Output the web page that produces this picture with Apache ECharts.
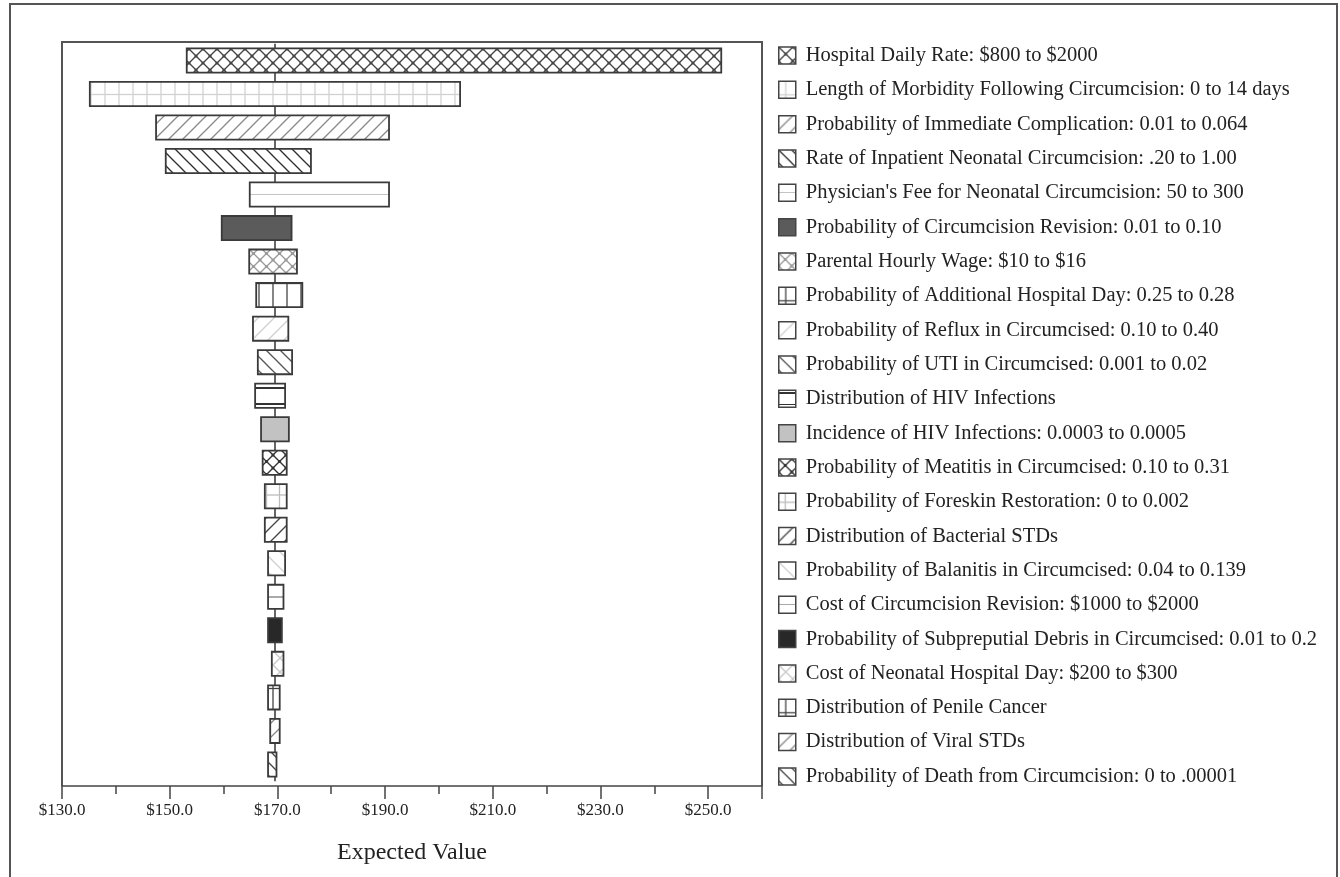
<!DOCTYPE html>
<html><head><meta charset="utf-8">
<script src="https://cdn.jsdelivr.net/npm/echarts@6/dist/echarts.min.js"></script>
<style>html,body{margin:0;padding:0;background:#fff}#c{width:1340px;height:877px}</style>
</head><body><div id="c"></div>
<script>
const categories = [
  "Hospital Daily Rate: $800 to $2000",
  "Length of Morbidity Following Circumcision: 0 to 14 days",
  "Probability of Immediate Complication: 0.01 to 0.064",
  "Rate of Inpatient Neonatal Circumcision: .20 to 1.00",
  "Physician's Fee for Neonatal Circumcision: 50 to 300",
  "Probability of Circumcision Revision: 0.01 to 0.10",
  "Parental Hourly Wage: $10 to $16",
  "Probability of Additional Hospital Day: 0.25 to 0.28",
  "Probability of Reflux in Circumcised: 0.10 to 0.40",
  "Probability of UTI in Circumcised: 0.001 to 0.02",
  "Distribution of HIV Infections",
  "Incidence of HIV Infections: 0.0003 to 0.0005",
  "Probability of Meatitis in Circumcised: 0.10 to 0.31",
  "Probability of Foreskin Restoration: 0 to 0.002",
  "Distribution of Bacterial STDs",
  "Probability of Balanitis in Circumcised: 0.04 to 0.139",
  "Cost of Circumcision Revision: $1000 to $2000",
  "Probability of Subpreputial Debris in Circumcised: 0.01 to 0.2",
  "Cost of Neonatal Hospital Day: $200 to $300",
  "Distribution of Penile Cancer",
  "Distribution of Viral STDs",
  "Probability of Death from Circumcision: 0 to .00001"
];
const lowValues  = [153.0,135.0,147.3,149.1,164.7,159.5,164.6,165.9,165.3,166.2,165.7,166.8,167.1,167.5,167.5,168.1,168.1,168.1,168.8,168.1,168.5,168.1];
const highValues = [252.6,204.1,190.9,176.4,190.9,172.8,173.8,174.8,172.2,172.9,171.6,172.3,171.9,171.9,171.9,171.6,171.3,171.0,171.3,170.6,170.6,170.0];
const baseValue = 169.6;
const tickValues = [130,150,170,190,210,230,250];
const axisMin = 130, axisMax = 260;

// fill styles (appearance only)
const fills = [
  {t:'diamond', c:'#444', s:14, dots:true},
  {t:'grid', c:'#d2d2d2', w:14, h:27},
  {t:'fwd', c:'#8a8a8a', s:14},
  {t:'back', c:'#2e2e2e', s:13},
  {t:'hl', c:'#c4c4c4', at:[0.5]},
  {t:'solid', c:'#5b5b5b'},
  {t:'diamond', c:'#9a9a9a', s:13, dots:true},
  {t:'grid', c:'#444', w:14, h:27},
  {t:'fwd', c:'#d0d0d0', s:16},
  {t:'back', c:'#555', s:14},
  {t:'hl', c:'#333', at:[0.19,0.81]},
  {t:'solid', c:'#c2c2c2'},
  {t:'diamond', c:'#333', s:13, dots:true},
  {t:'grid', c:'#bbb', w:13, h:18},
  {t:'fwd', c:'#444', s:14},
  {t:'back', c:'#cfcfcf', s:16},
  {t:'hl', c:'#aaa', at:[0.5]},
  {t:'solid', c:'#282828'},
  {t:'diamond', c:'#c8c8c8', s:14},
  {t:'grid', c:'#444', w:14, h:27},
  {t:'fwd', c:'#888', s:14},
  {t:'back', c:'#444', s:13}
];

function makeFill(f){
  if (f.t === 'solid') return f.c;
  if (f.t === 'hl') {
    const stops = [{offset:0,color:'#fff'}];
    f.at.forEach(a => {
      stops.push({offset:a-0.035,color:'#fff'});
      stops.push({offset:a-0.035,color:f.c});
      stops.push({offset:a+0.035,color:f.c});
      stops.push({offset:a+0.035,color:'#fff'});
    });
    stops.push({offset:1,color:'#fff'});
    return {type:'linear',x:0,y:0,x2:0,y2:1,colorStops:stops};
  }
  const cv = document.createElement('canvas');
  let w, h;
  if (f.t === 'grid') { w = f.w; h = f.h; } else { w = h = f.s; }
  cv.width = w; cv.height = h;
  const g = cv.getContext('2d');
  g.fillStyle = '#fff'; g.fillRect(0,0,w,h);
  g.strokeStyle = f.c; g.lineWidth = 1.3;
  const line = (a,b,c,d) => { g.beginPath(); g.moveTo(a,b); g.lineTo(c,d); g.stroke(); };
  const s = w;
  if (f.t === 'fwd' || f.t === 'diamond') {
    line(0,s,s,0); line(-s/2,s/2,s/2,-s/2); line(s/2,3*s/2,3*s/2,s/2);
  }
  if (f.t === 'back' || f.t === 'diamond') {
    line(0,0,s,s); line(-s/2,s/2,s/2,3*s/2); line(s/2,-s/2,3*s/2,s/2);
  }
  if (f.t === 'diamond' && f.dots) {
    g.fillStyle = f.c;
    [[0,0],[s,0],[0,s],[s,s],[s/2,s/2]].forEach(p => { g.beginPath(); g.arc(p[0],p[1],1.6,0,Math.PI*2); g.fill(); });
  }
  if (f.t === 'grid') {
    line(w/2,0,w/2,h); line(0,h/2,w,h/2);
  }
  return {image: cv, repeat: 'repeat'};
}

const series = [{
  name: '__base',
  type: 'bar',
  stack: 'r',
  data: lowValues,
  itemStyle: {color: 'transparent', borderWidth: 0},
  silent: true,
  barWidth: 26,
  markLine: {
    z: 1, silent: true, symbol: ['none','none'],
    label: {show:false},
    lineStyle: {color:'#333', width: 1.5, type:'solid'},
    data: [{xAxis: baseValue}]
  }
}];
categories.forEach((name, i) => {
  const d = categories.map(() => '-');
  d[i] = +(highValues[i] - lowValues[i]).toFixed(2);
  series.push({
    name, type: 'bar', stack: 'r', data: d, barWidth: 26,
    itemStyle: {color: makeFill(fills[i]), borderColor: '#3a3a3a', borderWidth: 1.8},
    emphasis: {disabled: true}
  });
});

const chart = echarts.init(document.getElementById('c'), null, {renderer:'canvas'});
const serif = '"Liberation Serif", "DejaVu Serif", serif';
chart.setOption({
  animation: false,
  backgroundColor: '#fff',
  grid: {left: 62, right: 578, top: 43.7, bottom: 95.8, show: false},
  xAxis: [{
    type: 'value', min: axisMin, max: axisMax, interval: 20, position: 'bottom', offset: 4.8,
    axisLine: {show: true, lineStyle: {color: '#444', width: 1.5}},
    axisTick: {show: true, length: 13, lineStyle: {color: '#444', width: 1.5}},
    splitLine: {show: false},
    axisLabel: {
      margin: 16, color: '#222', fontFamily: serif, fontSize: 17,
      formatter: v => tickValues.indexOf(v) >= 0 ? '$' + v.toFixed(1) : ''
    },
    name: 'Expected Value', nameLocation: 'middle', nameGap: 55,
    nameTextStyle: {fontFamily: serif, fontSize: 24, color: '#222'}
  }, {
    type: 'value', min: axisMin, max: axisMax, interval: 10, position: 'bottom', offset: 4.8,
    axisLine: {show: false}, axisLabel: {show: false}, splitLine: {show: false},
    axisTick: {show: true, length: 8, lineStyle: {color: '#444', width: 1.5}}
  }],
  yAxis: {
    type: 'category', data: categories, inverse: true, show: false
  },
  legend: {
    data: categories, orient: 'vertical', left: 778, top: 45, padding: 0,
    itemWidth: 17, itemHeight: 17, itemGap: 13.33, icon: 'rect', selectedMode: false,
    itemStyle: {borderColor: '#444', borderWidth: 1.5},
    textStyle: {fontFamily: serif, fontSize: 20.5, color: '#222', padding: [0,0,0,5]}
  },
  graphic: [
    {type: 'rect', shape: {x: 10, y: 4, width: 1327, height: 900}, style: {fill: 'none', stroke: '#555', lineWidth: 2}, silent: true},
    {type: 'polyline', shape: {points: [[62, 786], [62, 42], [762, 42], [762, 786]]}, style: {fill: 'none', stroke: '#555', lineWidth: 2}, silent: true}
  ],
  series
});
</script></body></html>
